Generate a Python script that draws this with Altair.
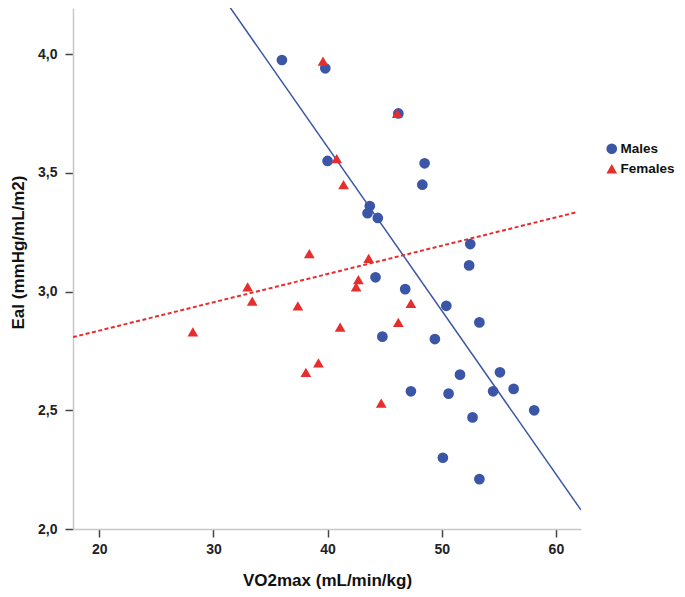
import altair as alt
import pandas as pd

# ---- data ----
males_x = [36.0, 39.8, 40.0, 46.2, 48.5, 48.3, 43.7, 43.5, 44.4, 52.5, 52.4, 44.2, 46.8,
           50.4, 53.3, 44.8, 49.4, 51.6, 55.1, 47.3, 50.6, 54.5, 56.3, 58.1, 52.7, 50.1, 53.3]
males_y = [3.975, 3.94, 3.55, 3.75, 3.54, 3.45, 3.36, 3.33, 3.31, 3.20, 3.11, 3.06, 3.01,
           2.94, 2.87, 2.81, 2.80, 2.65, 2.66, 2.58, 2.57, 2.58, 2.59, 2.50, 2.47, 2.30, 2.21]
females_x = [39.6, 46.1, 40.8, 41.4, 38.4, 43.6, 42.7, 42.5, 33.0, 33.4, 37.4, 28.2, 38.1,
             39.2, 41.1, 46.2, 47.3, 44.7]
females_y = [3.97, 3.75, 3.56, 3.45, 3.16, 3.14, 3.05, 3.02, 3.02, 2.96, 2.94, 2.83, 2.66,
             2.70, 2.85, 2.87, 2.95, 2.53]
group_names = ["Males", "Females"]

# fit lines (end points of the drawn regression lines)
fit_male_x = [31.0, 62.2]
fit_male_y = [4.228, 2.08]
fit_female_x = [17.7, 61.9]
fit_female_y = [2.808, 3.335]

x_ticks = [20, 30, 40, 50, 60]
y_ticks = [2.0, 2.5, 3.0, 3.5, 4.0]

BLUE = "#3b56a6"
RED = "#e62e2f"
FONT = "Liberation Sans"

pts = pd.DataFrame({
    "VO2max": males_x + females_x,
    "EaI": males_y + females_y,
    "Group": ["Males"] * len(males_x) + ["Females"] * len(females_x),
})
male_line = pd.DataFrame({"VO2max": fit_male_x, "EaI": fit_male_y})
female_line = pd.DataFrame({"VO2max": fit_female_x, "EaI": fit_female_y})

xscale = alt.Scale(domain=[17.7, 62.2], nice=False, zero=False)
yscale = alt.Scale(domain=[2.0, 4.194], nice=False, zero=False)

xaxis = alt.Axis(values=x_ticks, title="VO2max (mL/min/kg)", format="d",
                 titleBaseline="alphabetic", titleY=56, labelPadding=5)
yaxis = alt.Axis(values=y_ticks, title="EaI (mmHg/mL/m2)",
                 labelExpr="replace(format(datum.value, '.1f'), '.', ',')",
                 titleBaseline="alphabetic", titleX=-50, titleY=244, labelPadding=8)

x_enc = alt.X("VO2max:Q", scale=xscale, axis=xaxis)
y_enc = alt.Y("EaI:Q", scale=yscale, axis=yaxis)

m_line = alt.Chart(male_line).mark_line(color=BLUE, strokeWidth=1.5, clip=True).encode(
    x=x_enc, y=y_enc)
f_line = alt.Chart(female_line).mark_line(color=RED, strokeWidth=2, strokeDash=[4, 2.5],
                                          clip=True).encode(x=x_enc, y=y_enc)

leg = alt.Legend(title=None, orient="none", legendX=532, legendY=134)
points = alt.Chart(pts).mark_point(filled=True, size=115, opacity=1).encode(
    x=x_enc,
    y=y_enc,
    color=alt.Color("Group:N", scale=alt.Scale(domain=group_names, range=[BLUE, RED]),
                    legend=leg),
    shape=alt.Shape("Group:N", scale=alt.Scale(domain=group_names, range=["circle", "triangle-up"]),
                    legend=leg),
)

chart = alt.layer(m_line, f_line, points).properties(
    width=508,
    height=521,
    padding={"left": 65, "top": 0, "right": 96, "bottom": 60},
    autosize=alt.AutoSizeParams(type="none"),
    background="white",
).configure_view(stroke=None).configure_axis(
    domainColor="#c8c8c8",
    domainWidth=1.5,
    tickColor="#444444",
    tickWidth=1.5,
    tickSize=8,
    grid=False,
    labelFont=FONT,
    labelFontWeight="bold",
    labelFontSize=14,
    labelColor="#222222",
    titleFont=FONT,
    titleFontWeight="bold",
    titleFontSize=17,
    titleColor="#111111",
).configure_legend(
    labelFont=FONT,
    labelFontWeight="bold",
    labelFontSize=13.5,
    labelColor="#111111",
    symbolSize=115,
    symbolStrokeWidth=0,
    rowPadding=5,
    labelOffset=2,
)

chart.save("out.html", embed_options={"renderer": "svg", "actions": False})
